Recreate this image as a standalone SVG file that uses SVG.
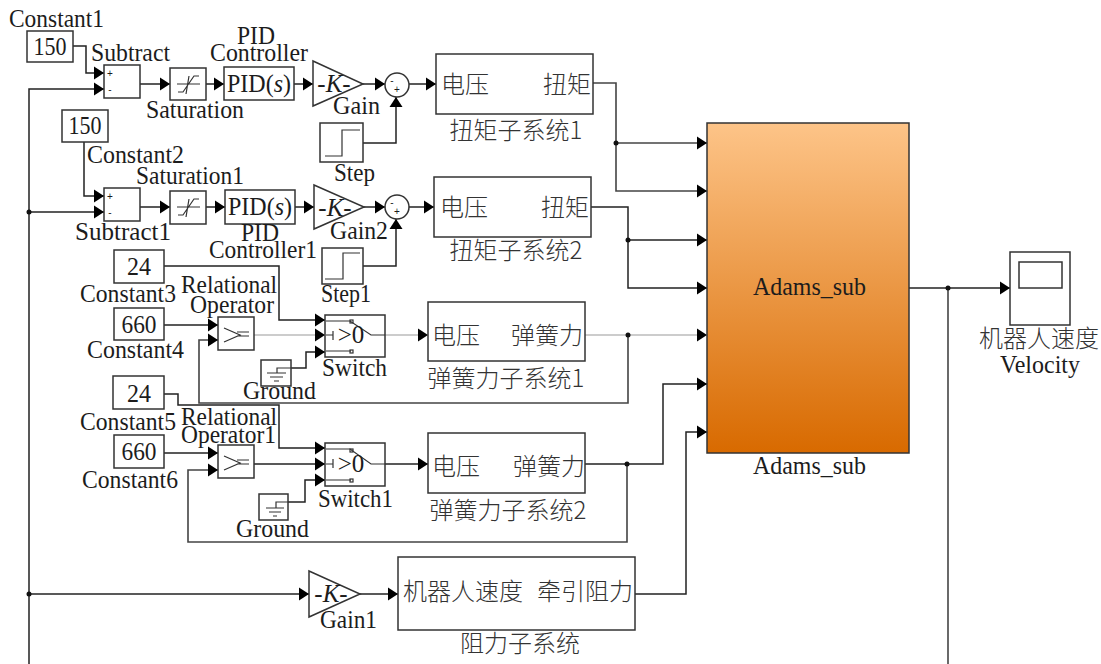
<svg xmlns="http://www.w3.org/2000/svg" width="1101" height="664" viewBox="0 0 1101 664">
<style>
text{font-family:"Liberation Serif","Noto Sans CJK SC",serif;font-size:25px;fill:#1c1c1c;text-anchor:middle}
.z{font-family:"Noto Sans CJK SC","Liberation Serif",serif;font-size:24px;fill:#333;font-weight:300}
.s{font-size:10px;font-family:"Liberation Sans",sans-serif}
.b{fill:#fff;stroke:#333;stroke-width:1.5}
.i{fill:none;stroke:#333;stroke-width:1.2}
.c{fill:none;stroke:#222;stroke-width:1.5}
.t{fill:none;stroke:#999;stroke-width:1}
.e{fill:none;stroke:#444;stroke-width:1.6}
.d{fill:#111;stroke:none}
</style>
<defs>
<marker id="a" markerUnits="userSpaceOnUse" markerWidth="11" markerHeight="14" refX="10" refY="7" orient="auto"><path d="M0,0.5L10,7L0,13.5z" fill="#000"/></marker>
<linearGradient id="o" x1="0" y1="0" x2="0" y2="1"><stop offset="0" stop-color="#fdc488"/><stop offset="1" stop-color="#d86a00"/></linearGradient>
</defs>
<g id="connectors">
<path class="c" marker-end="url(#a)" d="M73,46H86V73H104"/>
<path class="c" marker-end="url(#a)" d="M29,664V89H104"/>
<path class="c" marker-end="url(#a)" d="M29,212H104"/>
<path class="c" marker-end="url(#a)" d="M29,594H309"/>
<path class="c" marker-end="url(#a)" d="M84,142V196H104"/>
<path class="c" marker-end="url(#a)" d="M140,84H170"/>
<path class="c" marker-end="url(#a)" d="M206,84H224"/>
<path class="c" marker-end="url(#a)" d="M294,84H313"/>
<path class="c" marker-end="url(#a)" d="M363,84H385"/>
<path class="c" marker-end="url(#a)" d="M409,84H436"/>
<path class="c" marker-end="url(#a)" d="M363,143H396V97"/>
<path class="c" marker-end="url(#a)" d="M140,207H170"/>
<path class="c" marker-end="url(#a)" d="M206,207H225"/>
<path class="c" marker-end="url(#a)" d="M295,207H314"/>
<path class="c" marker-end="url(#a)" d="M364,207H385"/>
<path class="c" marker-end="url(#a)" d="M409,207H434"/>
<path class="c" marker-end="url(#a)" d="M363,266H396V219"/>
<path class="c" marker-end="url(#a)" d="M164,266H279V320H325"/>
<path class="c" marker-end="url(#a)" d="M164,325H218"/>
<path class="t" marker-end="url(#a)" d="M254,335H325"/>
<path class="t" marker-end="url(#a)" d="M385,335H428"/>
<path class="c" marker-end="url(#a)" d="M291,368H306V352H325"/>
<path class="t" marker-end="url(#a)" d="M585,335H707"/>
<path class="e" marker-end="url(#a)" d="M628,335V403H199V340H218"/>
<path class="c" marker-end="url(#a)" d="M164,394H178V405H279V448H325"/>
<path class="c" marker-end="url(#a)" d="M164,453H218"/>
<path class="c" marker-end="url(#a)" d="M254,464H325"/>
<path class="c" marker-end="url(#a)" d="M385,464H428"/>
<path class="c" marker-end="url(#a)" d="M288,502H305V480H325"/>
<path class="c" marker-end="url(#a)" d="M585,464H663V384H707"/>
<path class="e" marker-end="url(#a)" d="M627,464V542H188V470H218"/>
<path class="c" marker-end="url(#a)" d="M360,594H398"/>
<path class="c" marker-end="url(#a)" d="M635,594H686V432H707"/>
<path class="e" marker-end="url(#a)" d="M593,83H616V191H707"/>
<path class="e" marker-end="url(#a)" d="M616,143H707"/>
<path class="c" marker-end="url(#a)" d="M591,207H628V288H707"/>
<path class="c" marker-end="url(#a)" d="M628,240H707"/>
<path class="c" marker-end="url(#a)" d="M909,288H1010"/>
<path class="e" d="M948,288V664"/>
<circle class="d" cx="29" cy="212" r="2.5"/>
<circle class="d" cx="29" cy="594" r="2.5"/>
<circle class="d" cx="616" cy="143" r="2.5"/>
<circle class="d" cx="628" cy="240" r="2.5"/>
<circle class="d" cx="628" cy="335" r="2.5"/>
<circle class="d" cx="627" cy="464" r="2.5"/>
<circle class="d" cx="948" cy="288" r="2.5"/>
</g>
<g id="constant1"><rect class="b" x="27" y="31" width="46" height="31"/><text x="50" y="55" textLength="33" lengthAdjust="spacingAndGlyphs">150</text><text x="56.500" y="27" textLength="95" lengthAdjust="spacingAndGlyphs">Constant1</text></g>
<g id="constant2"><rect class="b" x="62" y="110" width="46" height="32"/><text x="85" y="134" textLength="33" lengthAdjust="spacingAndGlyphs">150</text><text x="135.500" y="163" textLength="97" lengthAdjust="spacingAndGlyphs">Constant2</text></g>
<g id="constant3"><rect class="b" x="114" y="250" width="50" height="33"/><text x="139" y="275" textLength="24" lengthAdjust="spacingAndGlyphs">24</text><text x="128" y="302" textLength="96" lengthAdjust="spacingAndGlyphs">Constant3</text></g>
<g id="constant4"><rect class="b" x="114" y="308" width="50" height="32"/><text x="139" y="333" textLength="35" lengthAdjust="spacingAndGlyphs">660</text><text x="135.500" y="358" textLength="97" lengthAdjust="spacingAndGlyphs">Constant4</text></g>
<g id="constant5"><rect class="b" x="113" y="376" width="51" height="33"/><text x="139" y="402" textLength="24" lengthAdjust="spacingAndGlyphs">24</text><text x="128" y="430" textLength="96" lengthAdjust="spacingAndGlyphs">Constant5</text></g>
<g id="constant6"><rect class="b" x="114" y="435" width="50" height="33"/><text x="139" y="460" textLength="35" lengthAdjust="spacingAndGlyphs">660</text><text x="130" y="488" textLength="96" lengthAdjust="spacingAndGlyphs">Constant6</text></g>
<g id="subtract"><rect class="b" x="104" y="65" width="36" height="33"/><text class="s" x="110" y="77">+</text><text class="s" x="110" y="93">-</text><text x="130.500" y="61" textLength="79" lengthAdjust="spacingAndGlyphs">Subtract</text></g>
<g id="subtract1"><rect class="b" x="104" y="188" width="36" height="33"/><text class="s" x="110" y="200">+</text><text class="s" x="110" y="216">-</text><text x="123" y="240" textLength="96" lengthAdjust="spacingAndGlyphs">Subtract1</text></g>
<g id="saturation"><rect class="b" x="170" y="68" width="36" height="32"/><path class="i" d="M178,92H183L194,76H199M177,84H200M189,76L186,94"/><text x="195" y="118" textLength="98" lengthAdjust="spacingAndGlyphs">Saturation</text></g>
<g id="saturation1"><rect class="b" x="170" y="191" width="36" height="33"/><path class="i" d="M178,215H183L194,199H199M177,207H200M189,199L186,217"/><text x="190" y="184" textLength="108" lengthAdjust="spacingAndGlyphs">Saturation1</text></g>
<g id="pid"><rect class="b" x="224" y="67" width="70" height="33"/><text x="259" y="92" textLength="64" lengthAdjust="spacingAndGlyphs">PID(<tspan font-style="italic">s</tspan>)</text><text x="256" y="44" textLength="38" lengthAdjust="spacingAndGlyphs">PID</text><text x="259" y="61" textLength="98" lengthAdjust="spacingAndGlyphs">Controller</text></g>
<g id="pid1"><rect class="b" x="225" y="190" width="70" height="34"/><text x="260" y="215" textLength="64" lengthAdjust="spacingAndGlyphs">PID(<tspan font-style="italic">s</tspan>)</text><text x="260" y="241" textLength="38" lengthAdjust="spacingAndGlyphs">PID</text><text x="263" y="258" textLength="108" lengthAdjust="spacingAndGlyphs">Controller1</text></g>
<g id="gain"><path class="b" d="M313,61L363,84L313,106Z"/><text x="334" y="92">-<tspan font-style="italic">K</tspan>-</text><text x="356.500" y="114" textLength="47" lengthAdjust="spacingAndGlyphs">Gain</text></g>
<g id="gain2"><path class="b" d="M314,185L364,207L314,229Z"/><text x="335" y="216">-<tspan font-style="italic">K</tspan>-</text><text x="359" y="239" textLength="58" lengthAdjust="spacingAndGlyphs">Gain2</text></g>
<g id="gain1"><path class="b" d="M309,571L360,594L309,617Z"/><text x="331" y="602">-<tspan font-style="italic">K</tspan>-</text><text x="348.500" y="628" textLength="57" lengthAdjust="spacingAndGlyphs">Gain1</text></g>
<g id="sum"><circle class="b" cx="397" cy="85" r="12"/><text class="s" x="392" y="84">-</text><text class="s" x="397" y="93">+</text></g>
<g id="sum1"><circle class="b" cx="397" cy="207" r="12"/><text class="s" x="392" y="206">-</text><text class="s" x="397" y="215">+</text></g>
<g id="step"><rect class="b" x="320" y="123" width="43" height="39"/><path class="i" d="M325,156H342V130H360"/><text x="354.500" y="181" textLength="41" lengthAdjust="spacingAndGlyphs">Step</text></g>
<g id="step1"><rect class="b" x="322" y="248" width="41" height="36"/><path class="i" d="M325,279H343V253H360"/><text x="346" y="302" textLength="50" lengthAdjust="spacingAndGlyphs">Step1</text></g>
<g id="subsystem1"><rect class="b" x="436" y="54" width="157" height="60"/><text class="z" x="465" y="93">电压</text><text class="z" x="567" y="93">扭矩</text><text class="z" x="516" y="139">扭矩子系统1</text></g>
<g id="subsystem2"><rect class="b" x="434" y="177" width="157" height="60"/><text class="z" x="464" y="216">电压</text><text class="z" x="565" y="216">扭矩</text><text class="z" x="516" y="259">扭矩子系统2</text></g>
<g id="relop"><rect class="b" x="218" y="317" width="36" height="33"/><path class="i" d="M224,328L240,335L224,342M237,332H249M237,336H249"/><text x="229" y="293" textLength="96" lengthAdjust="spacingAndGlyphs">Relational</text><text x="232" y="313" textLength="84" lengthAdjust="spacingAndGlyphs">Operator</text></g>
<g id="relop1"><rect class="b" x="218" y="445" width="36" height="33"/><path class="i" d="M224,456L240,463L224,470M237,460H249M237,464H249"/><text x="229" y="425" textLength="96" lengthAdjust="spacingAndGlyphs">Relational</text><text x="228.500" y="443" textLength="95" lengthAdjust="spacingAndGlyphs">Operator1</text></g>
<g id="switch"><rect class="b" x="325" y="315" width="60" height="42"/><path class="i" d="M326,321H350L371,335H385M326,351H351M333,331V340M326,335H333"/><rect class="i" x="350" y="320" width="3" height="3"/><rect class="i" x="350" y="350" width="3" height="3"/><text x="351" y="343">&gt;0</text><text x="354.500" y="376" textLength="65" lengthAdjust="spacingAndGlyphs">Switch</text></g>
<g id="switch1"><rect class="b" x="325" y="443" width="60" height="43"/><path class="i" d="M326,449H350L371,464H385M326,480H351M333,459V468M326,464H333"/><rect class="i" x="350" y="449" width="3" height="3"/><rect class="i" x="350" y="479" width="3" height="3"/><text x="351" y="472">&gt;0</text><text x="355.500" y="507" textLength="75" lengthAdjust="spacingAndGlyphs">Switch1</text></g>
<g id="ground"><rect class="b" x="261" y="360" width="30" height="26"/><path class="i" d="M291,368H277V373M267,373H286M270,377H283M274,381H279"/><text x="279.500" y="399" textLength="73" lengthAdjust="spacingAndGlyphs">Ground</text></g>
<g id="ground1"><rect class="b" x="259" y="494" width="29" height="26"/><path class="i" d="M288,502H276V508M266,508H284M269,512H281M273,516H277"/><text x="272.500" y="537" textLength="73" lengthAdjust="spacingAndGlyphs">Ground</text></g>
<g id="spring1"><rect class="b" x="428" y="302" width="157" height="59"/><text class="z" x="456" y="344">电压</text><text class="z" x="547" y="344">弹簧力</text><text class="z" x="506" y="387">弹簧力子系统1</text></g>
<g id="spring2"><rect class="b" x="428" y="433" width="157" height="60"/><text class="z" x="456" y="475">电压</text><text class="z" x="549" y="475">弹簧力</text><text class="z" x="508" y="519">弹簧力子系统2</text></g>
<g id="drag"><rect class="b" x="398" y="557" width="237" height="73"/><text class="z" x="463" y="600">机器人速度</text><text class="z" x="585" y="600">牵引阻力</text><text class="z" x="520" y="652">阻力子系统</text></g>
<g id="adams"><rect x="707" y="123" width="202" height="330" fill="url(#o)" stroke="#333" stroke-width="1.5"/><text x="809.500" y="295" textLength="113" lengthAdjust="spacingAndGlyphs">Adams_sub</text><text x="809.500" y="474" textLength="113" lengthAdjust="spacingAndGlyphs">Adams_sub</text></g>
<g id="scope"><rect class="b" x="1010" y="252" width="60" height="73"/><rect class="b" x="1019" y="262" width="43" height="26"/><text class="z" x="1039" y="347">机器人速度</text><text x="1040" y="373" textLength="80" lengthAdjust="spacingAndGlyphs">Velocity</text></g>
</svg>
